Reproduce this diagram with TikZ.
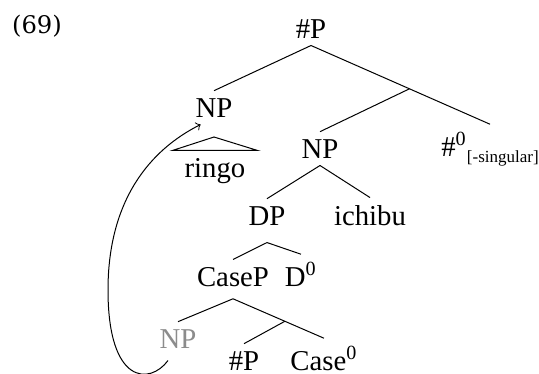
\documentclass[tikz,border=0pt]{standalone}
\usepackage{fontspec}
\setmainfont{Liberation Serif}
\newfontfamily\exfont{DejaVu Serif}
\usepackage{tikz}
\usetikzlibrary{positioning}

\tikzset{
  lbl/.style={inner sep=0pt, outer sep=3pt, anchor=base, font=\fontsize{11.5}{13}\selectfont},
  moved/.style={lbl, text=black!45},
}
\newcommand{\featsub}[1]{\raisebox{-2.6pt}{\fontsize{6.8}{8}\selectfont#1}}

\begin{document}
\begin{tikzpicture}[thin,x=0.4pt,y=-0.4pt]
  \useasboundingbox (0,0) rectangle (539,373);
  \node[font=\exfont\fontsize{9.7}{11}\selectfont] (exnum) at (37,26) {(69)};
  % labels
  \node[lbl] (hP) at (311,38) {\#P};
  \node[lbl] (np1) at (214,117) {NP};
  \node[lbl] (ringo) at (215,177) {ringo};
  \node[lbl] (np2) at (320,158) {NP};
  \node[lbl] (num) at (490,156) {\#\textsuperscript{0}\featsub{[-singular]}};
  \node[lbl] (dp) at (267,225) {DP};
  \node[lbl] (ichibu) at (370,225) {ichibu};
  \node[lbl] (caseP) at (233,286) {CaseP};
  \node[lbl] (d0) at (301,286) {D\textsuperscript{0}};
  \node[moved] (npg) at (178,348) {NP};
  \node[lbl] (hP2) at (244,370) {\#P};
  \node[lbl] (case0) at (324,370) {Case\textsuperscript{0}};
  % branches
  \draw (hP.south) -- (np1.north);
  \draw (hP.south) -- coordinate[pos=.55] (b1) (num.north);
  \draw (b1) -- (np2.north);
  \draw (np2.south) -- (dp.north);
  \draw (np2.south) -- (ichibu.north);
  \draw ([yshift=-4pt]dp.south) -- (caseP.north);
  \draw ([yshift=-4pt]dp.south) -- (d0.north);
  \draw ([yshift=-2pt]caseP.south) -- (npg.north);
  \draw ([yshift=-2pt]caseP.south) -- coordinate[pos=.57] (b2) (case0.north);
  \draw (b2) -- (hP2.north);
  % triangle over ringo
  \draw ([yshift=-5pt]np1.south) -- ([xshift=-17pt]ringo.north)
    -- ([xshift=17pt]ringo.north) -- cycle;
  % movement arrow
  \draw[->] ([xshift=-4pt,yshift=-2pt]npg.south)
    .. controls (150,385) and (108,385) .. (108,290)
    .. controls (108,200) and (150,150) .. ([xshift=5pt]np1.south west);
\end{tikzpicture}
\end{document}
